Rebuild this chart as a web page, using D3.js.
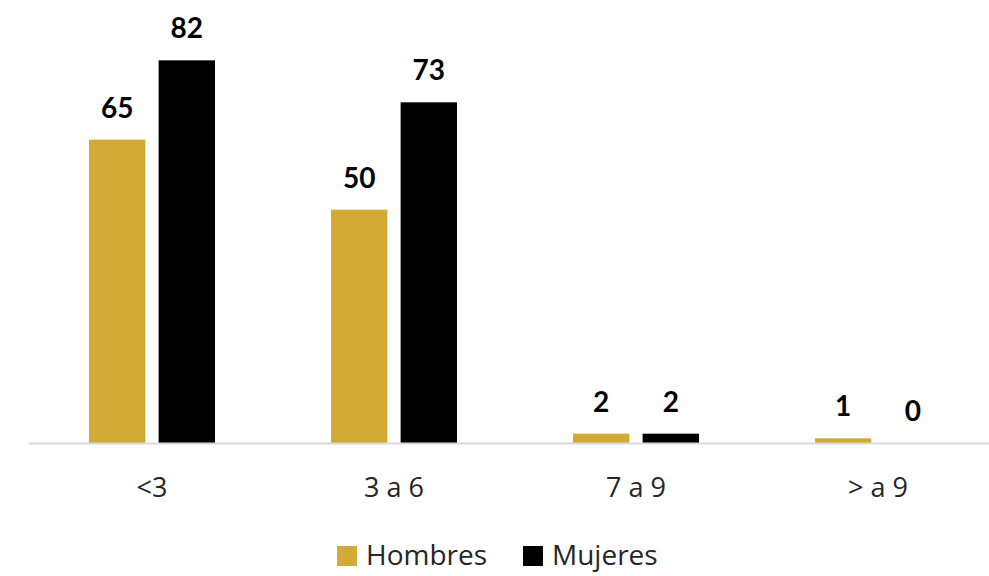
<!DOCTYPE html>
<html><head><meta charset="utf-8">
<script src="https://cdn.jsdelivr.net/npm/d3@7"></script>
<style>body{margin:0;background:#fff}svg{display:block}</style>
</head><body>
<script>
const categories = ["<3", "3 a 6", "7 a 9", "> a 9"];
const seriesNames = ["Hombres", "Mujeres"];
const hombres = [65, 50, 2, 1];
const mujeres = [82, 73, 2, 0];
const colors = ["#D3AA35", "#000000"];

const W = 989, H = 576;
const svg = d3.select("body").append("svg").attr("width", W).attr("height", H);
const font = "Lato, 'Open Sans', sans-serif";
const font2 = "'Open Sans', Lato, sans-serif";

const x = d3.scaleBand().domain(categories).range([31, 999]).paddingInner(0).paddingOuter(0);
const x1 = d3.scaleBand().domain(seriesNames).range([0, 126]).paddingInner(0.19);
const y = d3.scaleLinear().domain([0, 90]).range([443, 23]);

const data = categories.map((c, i) => ({cat: c, vals: [
  {s: seriesNames[0], v: hombres[i]}, {s: seriesNames[1], v: mujeres[i]}]}));

const groups = svg.selectAll("g.cat").data(data).enter().append("g")
  .attr("transform", d => `translate(${x(d.cat) + x.bandwidth()/2 - 63},0)`);

groups.selectAll("rect").data(d => d.vals).enter().append("rect")
  .attr("x", d => x1(d.s)).attr("width", x1.bandwidth())
  .attr("y", d => y(d.v)).attr("height", d => y(0) - y(d.v))
  .attr("fill", (d, i) => colors[i]);

groups.selectAll("text.val").data(d => d.vals).enter().append("text")
  .attr("class", "val")
  .attr("x", d => x1(d.s) + x1.bandwidth()/2)
  .attr("y", d => y(d.v) - 22)
  .attr("text-anchor", "middle")
  .style("font-family", font).style("font-weight", "bold").style("font-size", "28px")
  .attr("fill", "#000").text(d => d.v);

// baseline axis
const xAxis = d3.axisBottom(x).tickSize(0).tickPadding(0);
const ax = svg.append("g").attr("transform", `translate(0,${y(0)})`).call(xAxis);
ax.select(".domain").remove();
svg.append("line").attr("x1", 29).attr("x2", 989).attr("y1", y(0) + 0.5).attr("y2", y(0) + 0.5)
  .attr("stroke", "#D9D9D9").attr("stroke-width", 2);
ax.selectAll("text").attr("dy", 0).attr("y", 54)
  .style("font-family", font2).style("font-size", "27px").attr("fill", "#262626");

// legend
const legend = svg.append("g");
const legItems = [{n: seriesNames[0], c: colors[0], x: 337}, {n: seriesNames[1], c: colors[1], x: 523}];
legItems.forEach(it => {
  legend.append("rect").attr("x", it.x).attr("y", 546).attr("width", 20).attr("height", 20).attr("fill", it.c);
  legend.append("text").attr("x", it.x + 29).attr("y", 565)
    .style("font-family", font2).style("font-size", "28px").attr("fill", "#262626").text(it.n);
});
</script>
</body></html>
